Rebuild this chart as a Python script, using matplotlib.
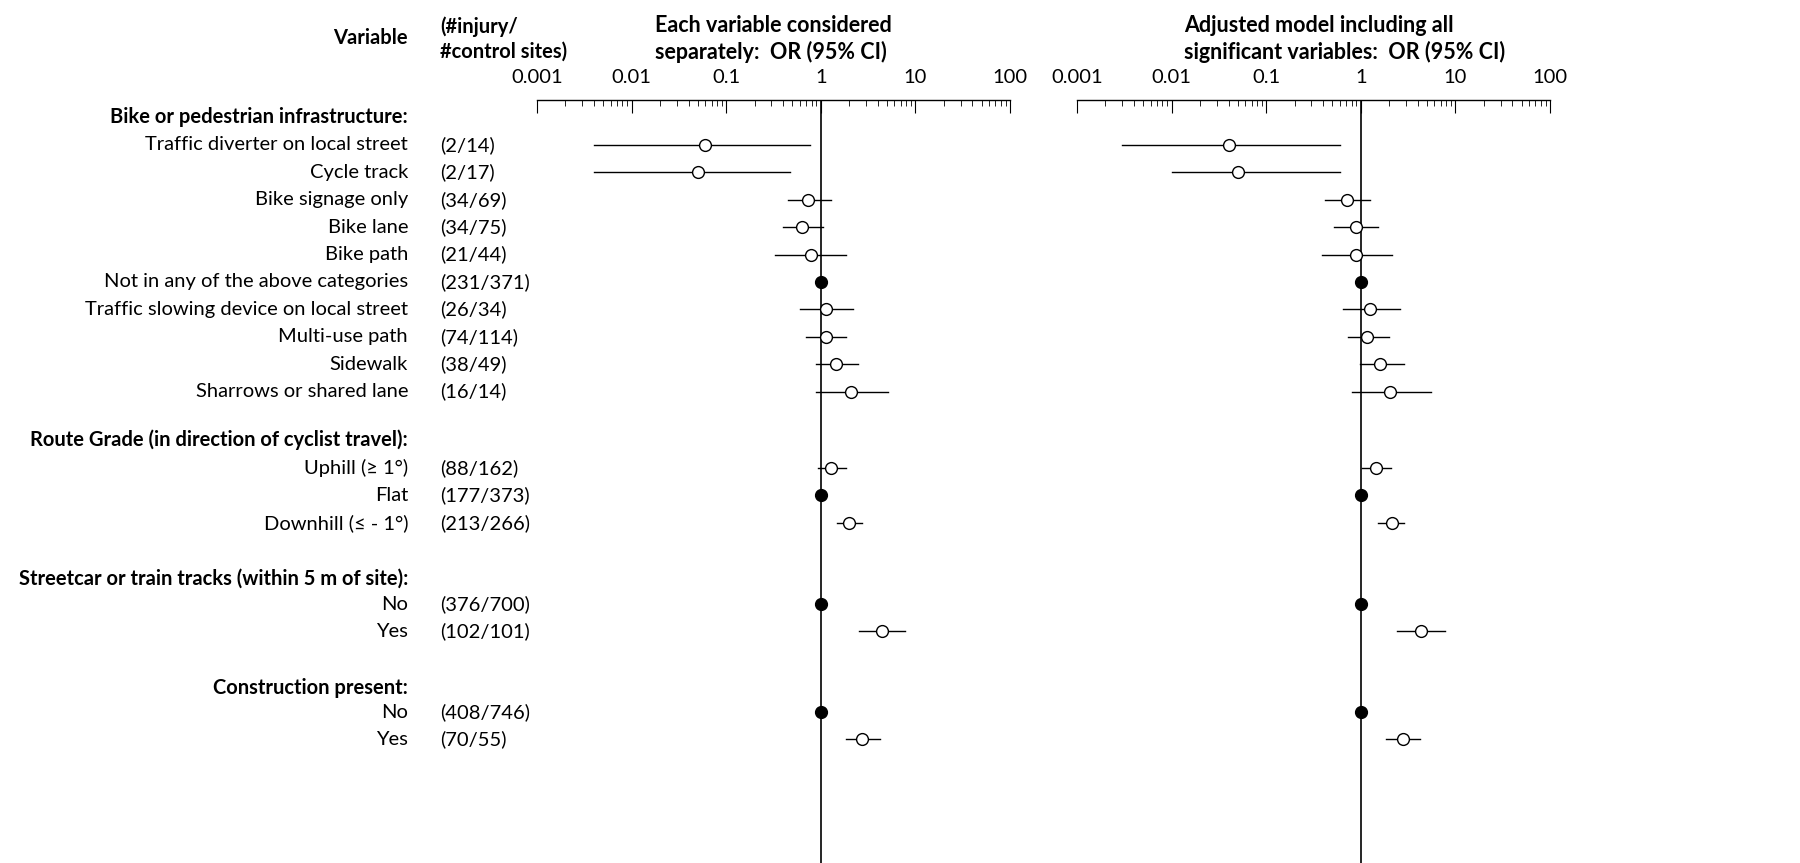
import numpy as np
import matplotlib
matplotlib.use("Agg")
import matplotlib.pyplot as plt

plt.rcParams["font.family"] = "Lato"

groups = ["Bike or pedestrian infrastructure:", "Route Grade (in direction of cyclist travel):",
          "Streetcar or train tracks (within 5 m of site):", "Construction present:"]
labels = [
    ["Traffic diverter on local street", "Cycle track", "Bike signage only", "Bike lane", "Bike path",
     "Not in any of the above categories", "Traffic slowing device on local street", "Multi-use path",
     "Sidewalk", "Sharrows or shared lane"],
    ["Uphill (\u2265 1\u00b0)", "Flat", "Downhill (\u2264 - 1\u00b0)"],
    ["No", "Yes"],
    ["No", "Yes"],
]
counts = [
    ["(2/14)", "(2/17)", "(34/69)", "(34/75)", "(21/44)", "(231/371)", "(26/34)", "(74/114)", "(38/49)", "(16/14)"],
    ["(88/162)", "(177/373)", "(213/266)"],
    ["(376/700)", "(102/101)"],
    ["(408/746)", "(70/55)"],
]
is_ref = [[0,0,0,0,0,1,0,0,0,0],[0,1,0],[1,0],[1,0]]
or1 = [[0.06,0.05,0.73,0.63,0.78,1,1.13,1.13,1.44,2.08],[1.27,1,1.98],[1,4.4],[1,2.71]]
lo1 = [[0.004,0.004,0.45,0.40,0.33,1,0.6,0.69,0.88,0.88],[0.93,1,1.48],[1,2.52],[1,1.84]]
hi1 = [[0.77,0.47,1.27,1.05,1.84,1,2.2,1.84,2.46,5.1],[1.84,1,2.71],[1,7.7],[1,4.2]]
or2 = [[0.04,0.05,0.71,0.89,0.89,1,1.24,1.16,1.59,2.03],[1.44,1,2.13],[1,4.3],[1,2.78]]
lo2 = [[0.003,0.01,0.42,0.52,0.39,1,0.65,0.73,0.98,0.8],[1.02,1,1.51],[1,2.4],[1,1.84]]
hi2 = [[0.61,0.61,1.24,1.51,2.13,1,2.58,1.98,2.85,5.5],[2.07,1,2.85],[1,7.7],[1,4.2]]
ticklabels = ["0.001", "0.01", "0.1", "1", "10", "100"]

W, H = 1800, 863
fig = plt.figure(figsize=(18, 8.63), dpi=100)

header_y = [117, 440, 579, 688]
first_row_gap = [28, 28, 25, 24]
step = 27.4

axes = []
for x0, x1 in [(537, 1010), (1077, 1550)]:
    ax = fig.add_axes([x0 / W, 0, (x1 - x0) / W, 1 - 100 / H])
    ax.set_xscale("log")
    ax.set_xlim(0.001, 100)
    ax.set_ylim(863, 100)
    for s in ["bottom", "left", "right"]:
        ax.spines[s].set_visible(False)
    ax.spines["top"].set_linewidth(1.0)
    ax.xaxis.set_ticks_position("top")
    ax.set_xticks([10.0**k for k in range(-3, 3)])
    ax.set_xticklabels(ticklabels, fontsize=14.5)
    ax.tick_params(axis="x", which="major", direction="in", length=9, pad=10)
    ax.tick_params(axis="x", which="minor", direction="in", length=4)
    ax.set_yticks([])
    ax.patch.set_visible(False)
    ax.plot([1, 1], [100, 863], color="black", lw=1.2)
    axes.append(ax)

fs = 14.5
for g, name in enumerate(groups):
    hy = header_y[g]
    fig.text(408 / W, 1 - hy / H, name, ha="right", va="center", fontsize=fs, fontweight="bold")
    for i, lab in enumerate(labels[g]):
        y = hy + first_row_gap[g] + i * step
        fig.text(408 / W, 1 - y / H, lab, ha="right", va="center", fontsize=fs)
        fig.text(440 / W, 1 - y / H, counts[g][i], ha="left", va="center", fontsize=fs)
        for ax, o, l, h in [(axes[0], or1, lo1, hi1), (axes[1], or2, lo2, hi2)]:
            ax.plot([l[g][i], h[g][i]], [y, y], color="black", lw=1)
            fc = "black" if is_ref[g][i] else "white"
            ax.plot([o[g][i]], [y], "o", ms=8.5, mfc=fc, mec="black", mew=1, zorder=3)

fig.text(408 / W, 1 - 38 / H, "Variable", ha="right", va="center", fontsize=fs, fontweight="bold")
fig.text(440 / W, 1 - 39 / H, "(#injury/\n#control sites)", ha="left", va="center", fontsize=fs,
         fontweight="bold", linespacing=1.3)
fig.text(655 / W, 1 - 39 / H, "Each variable considered\nseparately:  OR (95% CI)", ha="left", va="center",
         fontsize=fs + 1, fontweight="bold", linespacing=1.3)
fig.text(1184 / W, 1 - 39 / H, "Adjusted model including all\nsignificant variables:  OR (95% CI)", ha="left",
         va="center", fontsize=fs + 1, fontweight="bold", linespacing=1.3)

fig.savefig("out.png", dpi=100)
